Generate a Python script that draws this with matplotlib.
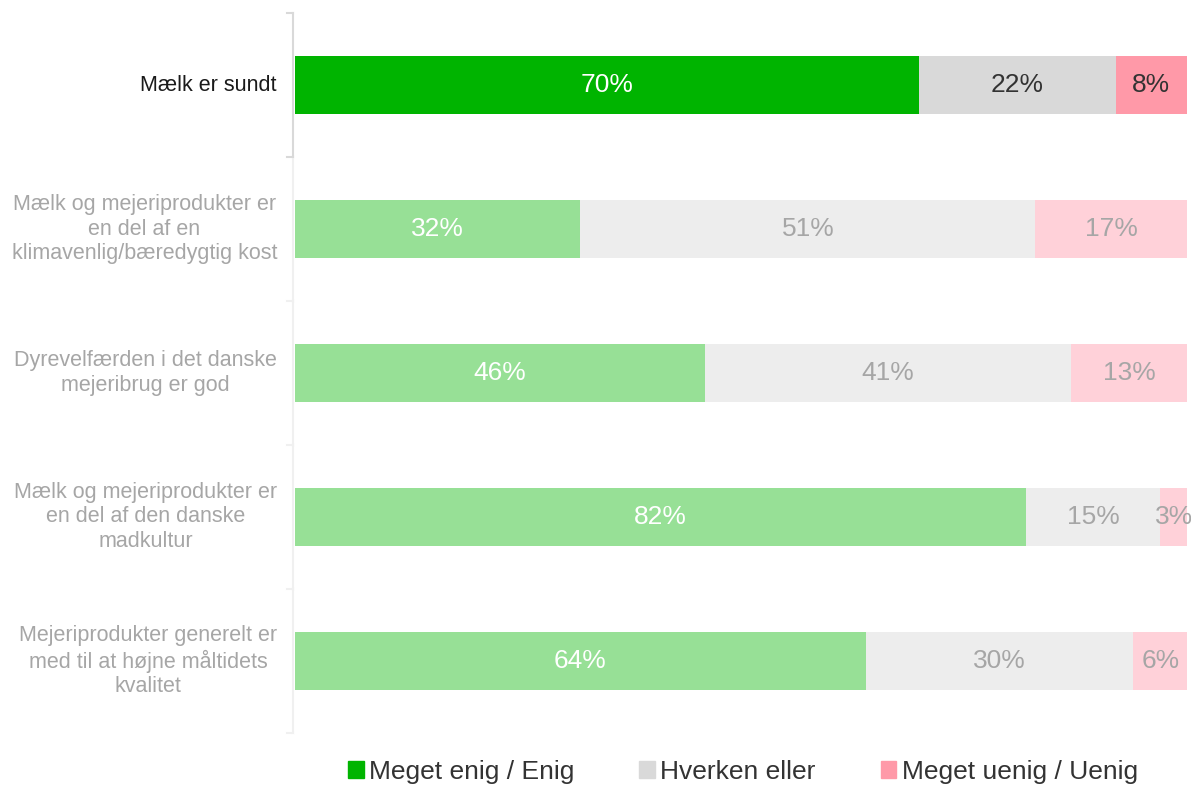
import matplotlib.pyplot as plt
from matplotlib.patches import Patch

plt.rcParams['font.family'] = ['Liberation Sans', 'DejaVu Sans']

statements = [
    "Mælk er sundt",
    "Mælk og mejeriprodukter er\nen del af en\nklimavenlig/bæredygtig kost",
    "Dyrevelfærden i det danske\nmejeribrug er god",
    "Mælk og mejeriprodukter er\nen del af den danske\nmadkultur",
    "Mejeriprodukter generelt er\nmed til at højne måltidets\nkvalitet",
]
enig = [70, 32, 46, 82, 64]
hverken = [22, 51, 41, 15, 30]
uenig = [8, 17, 13, 3, 6]
series_names = ["Meget enig / Enig", "Hverken eller", "Meget uenig / Uenig"]

strong = ["#00B400", "#D9D9D9", "#FF99A8"]
faded = ["#97E096", "#EDEDED", "#FFD1D9"]

fig = plt.figure(figsize=(11.91, 7.88), dpi=100)
ax = fig.add_axes([295 / 1191, 1 - 733 / 788, 892 / 1191, 720 / 788])

data = [enig, hverken, uenig]
for i, name in enumerate(statements):
    left = 0
    for j, vals in enumerate(data):
        v = vals[i]
        col = strong[j] if i == 0 else faded[j]
        ax.barh(i, v, left=left, height=0.4, color=col)
        if i == 0:
            tcol = "white" if j == 0 else "#333333"
        else:
            tcol = "white" if j == 0 else "#A6A6A6"
        ax.text(left + v / 2, i, f"{v}%", ha="center", va="center",
                fontsize=19, color=tcol)
        left += v
    ax.text(-18 / 892, i, name, transform=ax.get_yaxis_transform(),
            ha="right", va="center", multialignment="center", fontsize=15.5,
            color="#1a1a1a" if i == 0 else "#A6A6A6", linespacing=1.22)

ax.set_xlim(0, 100)
ax.set_ylim(4.5, -0.5)
ax.axis("off")

# left axis line with category separators
tr = ax.get_yaxis_transform()
xl = -2 / 892
for i in range(len(statements)):
    col = "#D9D9D9" if i == 0 else "#F0F0F0"
    ax.plot([xl, xl], [i - 0.5, i + 0.5], color=col, lw=1.5, transform=tr, clip_on=False)
for k in range(len(statements) + 1):
    col = "#D9D9D9" if k <= 1 else "#F0F0F0"
    ax.plot([xl - 6 / 892, xl], [k - 0.5, k - 0.5], color=col, lw=1.5,
            transform=tr, clip_on=False)

handles = [Patch(color=c) for c in strong]
fig.legend(handles, series_names, loc="center", bbox_to_anchor=(743 / 1191, 1 - 772 / 788),
           ncol=3, frameon=False, fontsize=19, handlelength=0.6, handleheight=0.6,
           handletextpad=0.2, columnspacing=2.45, labelcolor="#333333")

fig.savefig("out.png", dpi=100)
